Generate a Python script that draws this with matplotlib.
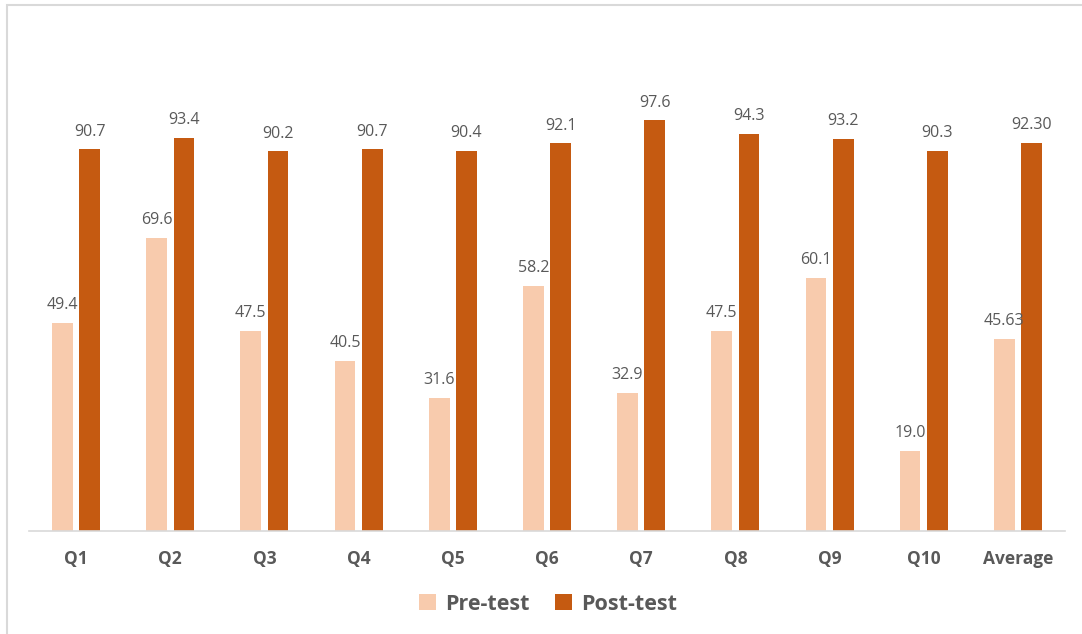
import numpy as np
import matplotlib
matplotlib.use("Agg")
import matplotlib.pyplot as plt
from matplotlib.patches import Rectangle

categories = ["Q1", "Q2", "Q3", "Q4", "Q5", "Q6", "Q7", "Q8", "Q9", "Q10", "Average"]
pre_test = [49.4, 69.6, 47.5, 40.5, 31.6, 58.2, 32.9, 47.5, 60.1, 19.0, 45.63]
post_test = [90.7, 93.4, 90.2, 90.7, 90.4, 92.1, 97.6, 94.3, 93.2, 90.3, 92.30]
pre_labels = ["49.4", "69.6", "47.5", "40.5", "31.6", "58.2", "32.9", "47.5", "60.1", "19.0", "45.63"]
post_labels = ["90.7", "93.4", "90.2", "90.7", "90.4", "92.1", "97.6", "94.3", "93.2", "90.3", "92.30"]

plt.rcParams['font.family'] = ['Open Sans', 'DejaVu Sans']

fig = plt.figure(figsize=(10.82, 6.34), dpi=100)
ax = fig.add_axes([29 / 1082, 103 / 634, 1036 / 1082, 505 / 634])

x = np.arange(len(categories))
w = 0.22
off = 0.145
b1 = ax.bar(x - off, pre_test, w, color="#F8CBAD", label="Pre-test")
b2 = ax.bar(x + off, post_test, w, color="#C55A11", label="Post-test")

for bars, labels in [(b1, pre_labels), (b2, post_labels)]:
    for bar, lab in zip(bars, labels):
        ax.annotate(lab, (bar.get_x() + bar.get_width() / 2, bar.get_height()),
                    xytext=(0, 7), textcoords="offset points", ha="center", va="bottom",
                    fontsize=11.5, color="#595959")

ax.set_xlim(-0.5, len(categories) - 0.5)
ax.set_ylim(0, 120)
ax.set_yticks([])
ax.set_xticks(x)
ax.set_xticklabels(categories, fontsize=12.5, fontweight="bold", color="#595959")
ax.tick_params(axis="x", length=0, pad=14)
for s in ["top", "right", "left"]:
    ax.spines[s].set_visible(False)
ax.spines["bottom"].set_color("#D9D9D9")
ax.spines["bottom"].set_linewidth(1.2)

leg = fig.legend(loc="center", bbox_to_anchor=(548 / 1082, 1 - 604 / 634), ncol=2, frameon=False,
                 prop={"size": 15.5, "weight": "bold"}, handlelength=0.8, handleheight=0.8,
                 handletextpad=0.4, columnspacing=1.2)
for t in leg.get_texts():
    t.set_color("#595959")

# chart border
fig.patches.append(Rectangle((7 / 1082, -0.1), 1.2, 1 - 5 / 634 + 0.1, transform=fig.transFigure,
                             fill=False, edgecolor="#D9D9D9", linewidth=1.5))

fig.savefig("out.png", dpi=100)
